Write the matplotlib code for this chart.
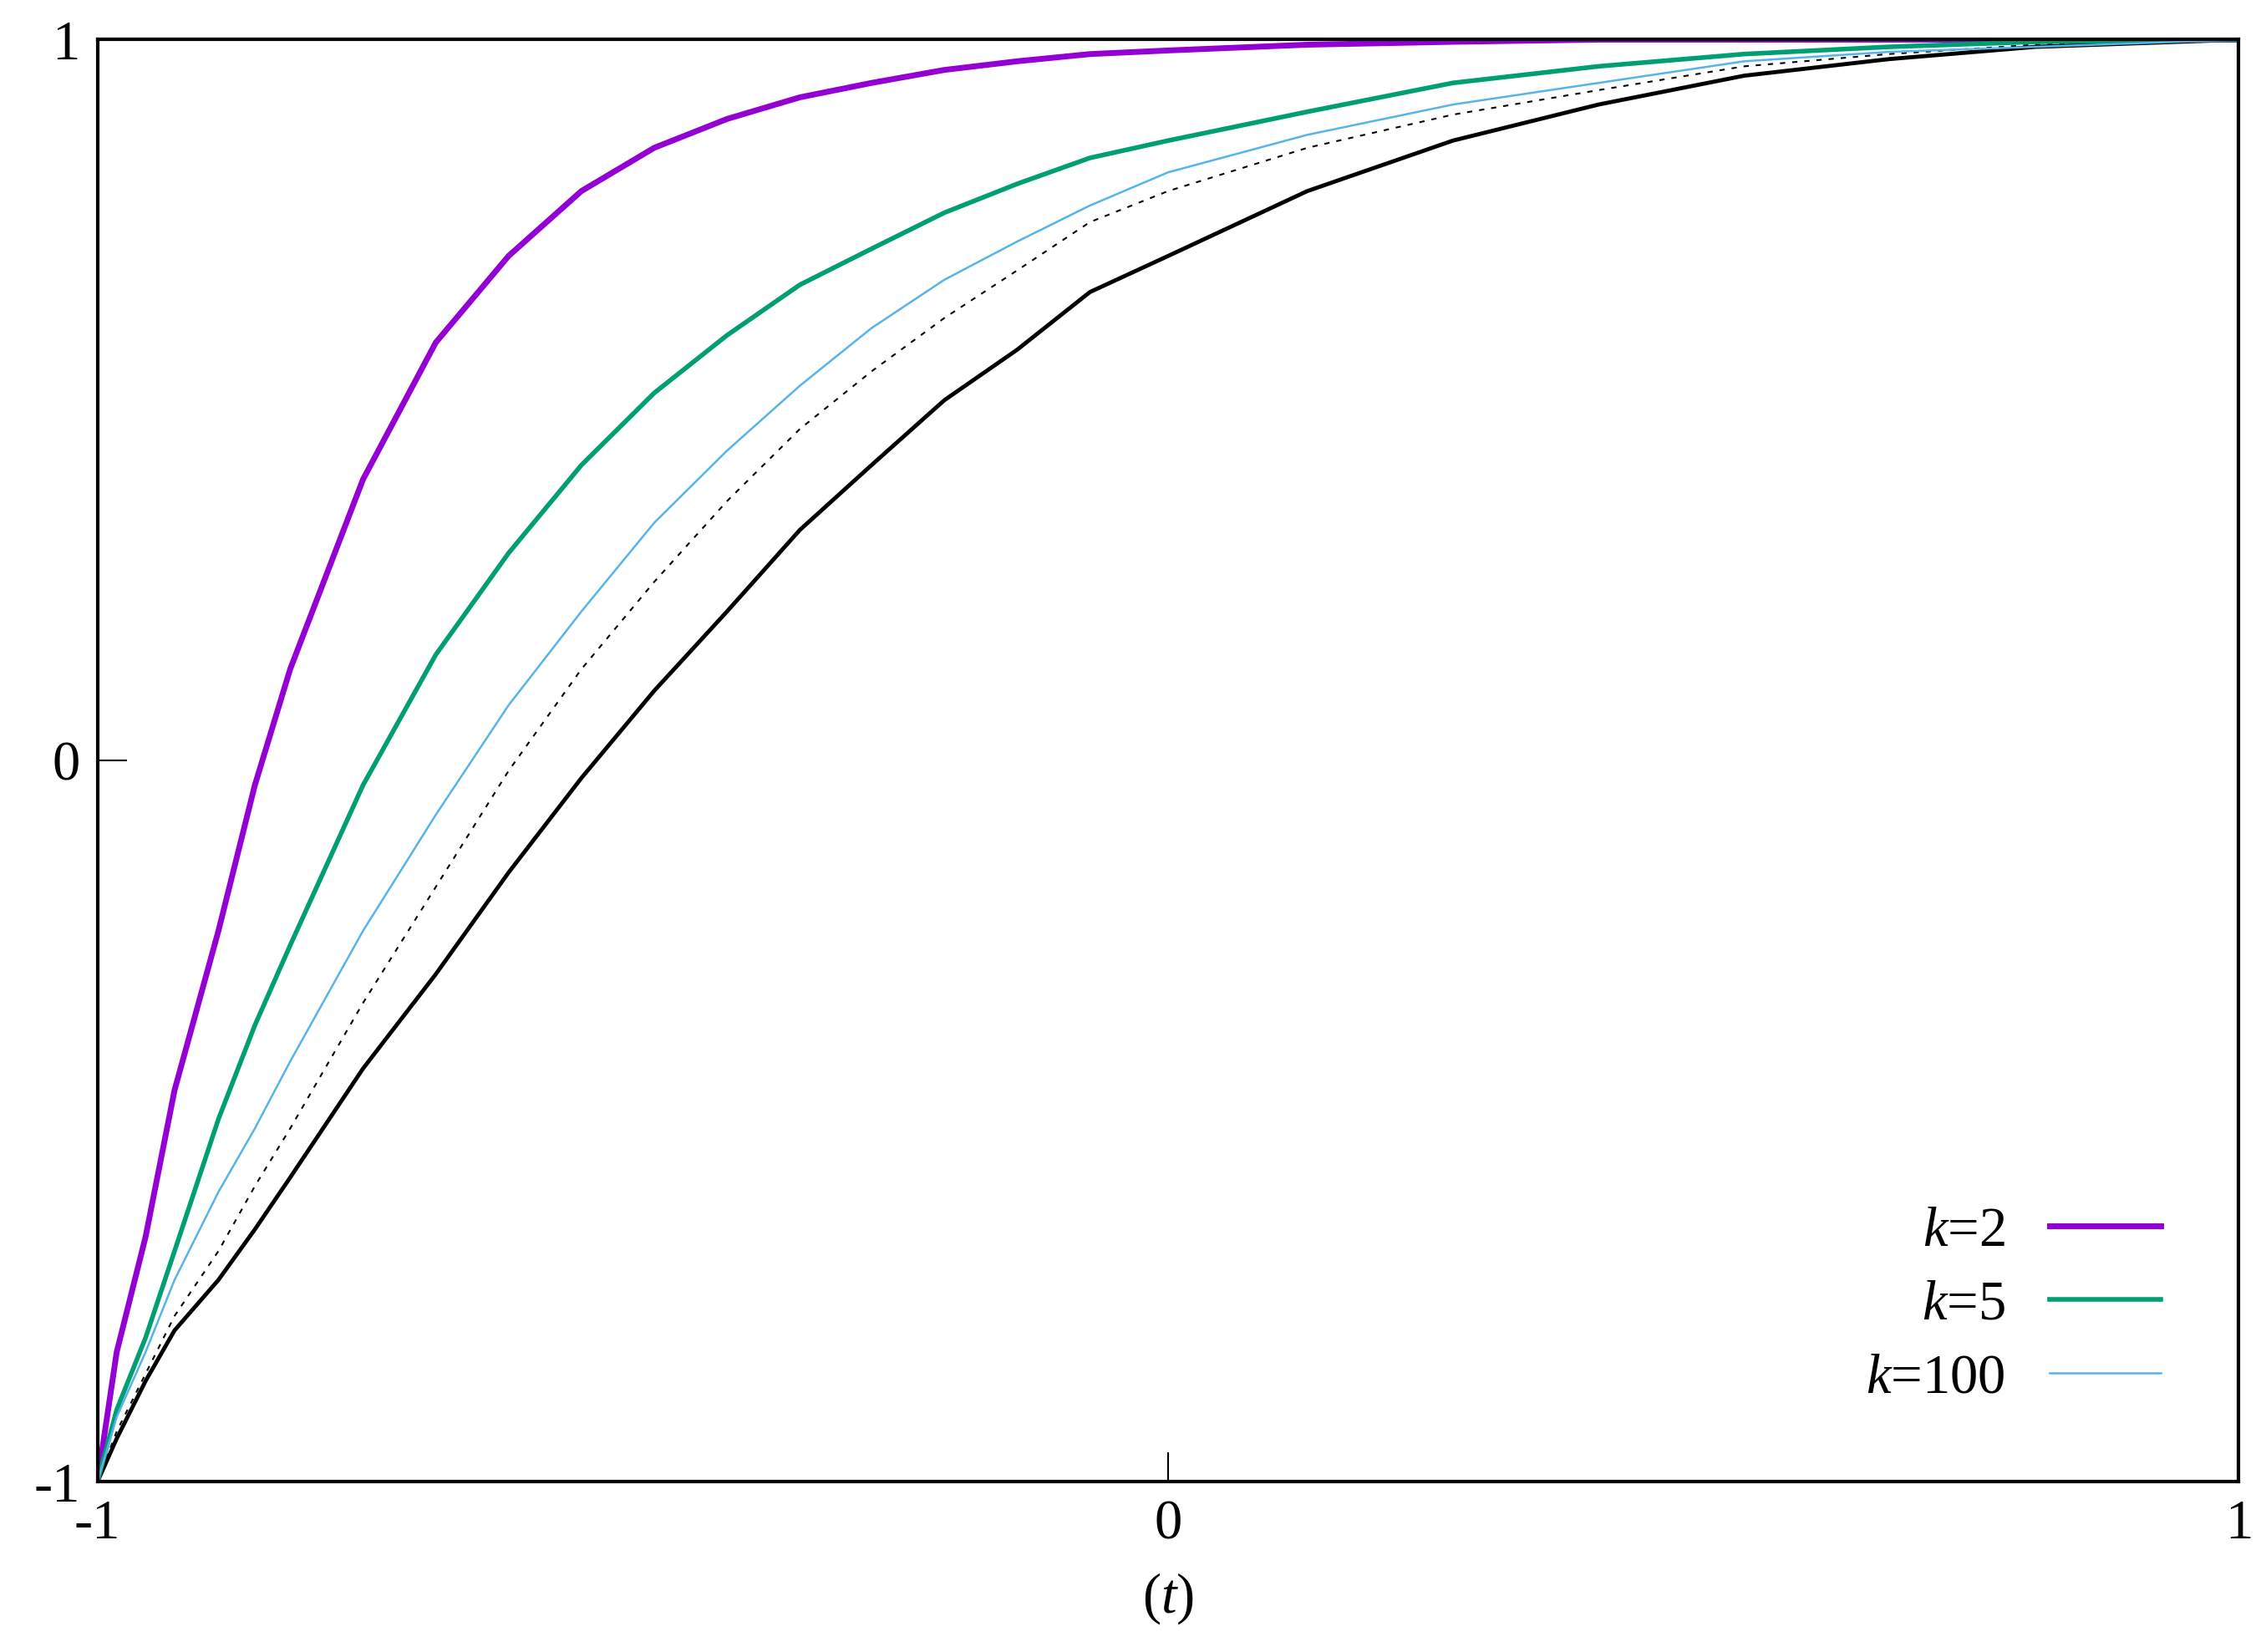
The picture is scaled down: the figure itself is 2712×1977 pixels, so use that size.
import matplotlib
matplotlib.use("Agg")
import matplotlib.pyplot as plt

t = [-1.0, -0.982, -0.955, -0.928, -0.887, -0.853, -0.82, -0.752, -0.684, -0.616, -0.548, -0.480,
     -0.412, -0.344, -0.277, -0.209, -0.141, -0.073, 0.0, 0.130, 0.266, 0.402, 0.538, 0.673, 0.81, 1.0]
k2 = [-1.0, -0.82, -0.66, -0.457, -0.236, -0.034, 0.127, 0.39, 0.58, 0.70, 0.79, 0.85,
      0.89, 0.92, 0.94, 0.958, 0.97, 0.98, 0.985, 0.993, 0.997, 1.0, 1.0, 1.0, 1.0, 1.0]
k5 = [-1.0, -0.90, -0.80, -0.68, -0.497, -0.367, -0.256, -0.034, 0.147, 0.288, 0.41, 0.51,
      0.59, 0.66, 0.71, 0.76, 0.80, 0.836, 0.86, 0.90, 0.94, 0.963, 0.98, 0.99, 0.997, 1.0]
k100 = [-1.0, -0.91, -0.82, -0.72, -0.598, -0.51, -0.417, -0.236, -0.075, 0.077, 0.207, 0.33,
        0.43, 0.52, 0.60, 0.667, 0.72, 0.77, 0.816, 0.868, 0.91, 0.94, 0.97, 0.983, 0.99, 1.0]
dotted = [-1.0, -0.93, -0.85, -0.77, -0.68, -0.59, -0.51, -0.336, -0.175, -0.014, 0.127, 0.248,
          0.36, 0.46, 0.54, 0.614, 0.68, 0.747, 0.79, 0.85, 0.896, 0.93, 0.963, 0.98, 0.993, 1.0]
black = [-1.0, -0.94, -0.86, -0.79, -0.72, -0.65, -0.578, -0.427, -0.296, -0.155, -0.024, 0.097,
         0.207, 0.32, 0.41, 0.50, 0.57, 0.65, 0.70, 0.79, 0.86, 0.91, 0.95, 0.973, 0.99, 1.0]

plt.rcParams['font.family'] = ['Liberation Serif', 'DejaVu Serif']
plt.rcParams['mathtext.fontset'] = 'custom'
plt.rcParams['mathtext.it'] = 'Liberation Serif:italic'
plt.rcParams['mathtext.rm'] = 'Liberation Serif'

fig = plt.figure(figsize=(27.12, 19.77), dpi=100)
ax = fig.add_axes([0.043, 0.103, 0.945, 0.873])
ax.plot(t, black, color='black', lw=3.5)
ax.plot(t, dotted, color='black', lw=1.5, ls=(0, (3, 4)))
l1, = ax.plot(t, k2, color='#9400d3', lw=5, label='$k$=2')
l2, = ax.plot(t, k5, color='#009e73', lw=4, label='$k$=5')
l3, = ax.plot(t, k100, color='#56b4e9', lw=1.8, label='$k$=100')
ax.set_xlim(-1, 1)
ax.set_ylim(-1, 1)
ax.set_xticks([-1, 0, 1])
ax.set_yticks([-1, 0, 1])
ax.set_xticklabels(['-1', '0', '1'])
ax.set_yticklabels(['-1', '0', '1'])
ax.tick_params(direction='in', length=25, width=1.5, labelsize=48, pad=15)
for s in ax.spines.values():
    s.set_linewidth(3)
ax.set_xlabel('($t$)', fontsize=48, labelpad=18)
leg = ax.legend(handles=[l1, l2, l3], loc='lower right', frameon=False, fontsize=48,
                markerfirst=False, handlelength=2.0, borderaxespad=1.0, labelspacing=0.4)
fig.savefig('out.png', dpi=100)
